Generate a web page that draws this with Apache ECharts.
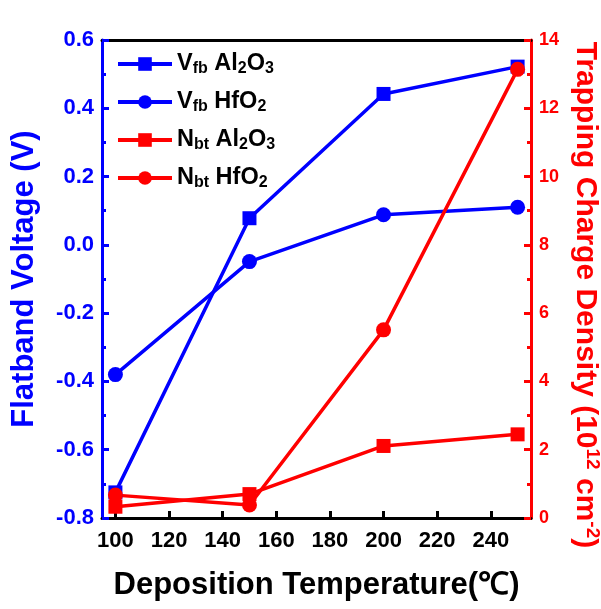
<!DOCTYPE html>
<html><head><meta charset="utf-8">
<script src="https://cdn.jsdelivr.net/npm/echarts@6/dist/echarts.min.js"></script>
<style>html,body{margin:0;padding:0;background:#fff}#c{width:601px;height:609px}</style>
</head><body><div id="c"></div>
<script>
const temps = [100, 150, 200, 250];
const vfbAl2O3 = [-0.725, 0.078, 0.442, 0.522];
const vfbHfO2 = [-0.38, -0.049, 0.088, 0.110];
const nbtAl2O3 = [0.33, 0.70, 2.11, 2.45];
const nbtHfO2 = [0.67, 0.38, 5.51, 13.14];
const xTicks = [100, 120, 140, 160, 180, 200, 220, 240];
const seriesNames = ['Vfb Al2O3', 'Vfb HfO2', 'Nbt Al2O3', 'Nbt HfO2'];
const legendRich = {
  'Vfb Al2O3': '{n|V}{s|fb}{n| Al}{s|2}{n|O}{s|3}',
  'Vfb HfO2': '{n|V}{s|fb}{n| HfO}{s|2}',
  'Nbt Al2O3': '{n|N}{s|bt}{n| Al}{s|2}{n|O}{s|3}',
  'Nbt HfO2': '{n|N}{s|bt}{n| HfO}{s|2}'
};
const FONT = 'Liberation Sans, Arial, sans-serif';
const BLUE = '#0000ff', RED = '#ff0000';
const chart = echarts.init(document.getElementById('c'), null, {renderer: 'canvas'});
function mk(vals){ return temps.map((t,i)=>[t, vals[i]]); }
function ser(name, vals, color, sym, yIdx){
  return {name, type:'line', yAxisIndex:yIdx, data: mk(vals), symbol: sym,
    symbolSize: sym==='rect'?14:15, itemStyle:{color}, lineStyle:{color, width:3.5},
    emphasis:{disabled:true}, animation:false};
}
chart.setOption({
  animation:false,
  textStyle:{fontFamily:FONT},
  grid:{left:102, right:70, top:40, bottom:91, containLabel:false, outerBoundsMode:'none'},
  legend:{
    left:111, top:47, orient:'vertical', itemWidth:54, itemHeight:17, itemGap:13,
    data: seriesNames,
    formatter: n => legendRich[n],
    lineStyle:{width:4},
    textStyle:{fontFamily:FONT, rich:{
      n:{fontSize:23.5, fontWeight:'bold', color:'#000', lineHeight:26, fontFamily:FONT},
      s:{fontSize:16, fontWeight:'bold', color:'#000', lineHeight:14, verticalAlign:'bottom', fontFamily:FONT}
    }}
  },
  xAxis:[{
    type:'value', min:95, max:255, position:'bottom',
    axisLine:{show:true, onZero:false, lineStyle:{color:'#000', width:3}},
    axisTick:{show:true, inside:true, length:7, lineStyle:{color:'#000', width:3}, customValues:xTicks},
    axisLabel:{color:'#000', fontSize:22, fontWeight:'bold', fontFamily:FONT, margin:12, customValues:xTicks},
    splitLine:{show:false},
    name:'Deposition Temperature(℃)', nameLocation:'middle', nameGap:52,
    nameTextStyle:{color:'#000', fontSize:31, fontWeight:'bold', fontFamily:FONT}
  },{
    type:'value', min:95, max:255, position:'top',
    axisLine:{show:true, onZero:false, lineStyle:{color:'#000', width:3}},
    axisTick:{show:false}, axisLabel:{show:false}, splitLine:{show:false}
  }],
  yAxis:[{
    type:'value', min:-0.8, max:0.6, interval:0.2, position:'left',
    axisLine:{show:true, onZero:false, lineStyle:{color:BLUE, width:3}},
    axisTick:{show:true, inside:true, length:7, lineStyle:{color:BLUE, width:3}},
    minorTick:{show:true, splitNumber:2, length:4, lineStyle:{color:BLUE, width:3}},
    axisLabel:{color:BLUE, fontSize:22, fontWeight:'bold', fontFamily:FONT, margin:8, formatter:v=>v.toFixed(1)},
    splitLine:{show:false},
    name:'Flatband Voltage (V)', nameLocation:'middle', nameGap:62, nameRotate:90,
    nameTextStyle:{color:BLUE, fontSize:31, fontWeight:'bold', fontFamily:FONT}
  },{
    type:'value', min:0, max:14, interval:2, position:'right',
    axisLine:{show:true, onZero:false, lineStyle:{color:RED, width:3}},
    axisTick:{show:true, inside:true, length:7, lineStyle:{color:RED, width:3}},
    minorTick:{show:true, splitNumber:2, length:4, lineStyle:{color:RED, width:3}},
    axisLabel:{color:RED, fontSize:18, fontWeight:'bold', fontFamily:FONT, margin:8},
    splitLine:{show:false},
    name:'{n|Trapping Charge Density (10}{p|12}{n| cm}{p|-2}{n|)}', nameLocation:'middle', nameGap:27, nameRotate:-90,
    nameTextStyle:{color:RED, fontFamily:FONT, padding:[0,0,0,32], rich:{
      n:{fontSize:30, fontWeight:'bold', color:RED, lineHeight:34, fontFamily:FONT},
      p:{fontSize:19, fontWeight:'bold', color:RED, lineHeight:18, verticalAlign:'top', fontFamily:FONT}
    }}
  }],
  series:[
    ser('Vfb Al2O3', vfbAl2O3, BLUE, 'rect', 0),
    ser('Vfb HfO2', vfbHfO2, BLUE, 'circle', 0),
    ser('Nbt Al2O3', nbtAl2O3, RED, 'rect', 1),
    ser('Nbt HfO2', nbtHfO2, RED, 'circle', 1)
  ]
});
</script></body></html>
